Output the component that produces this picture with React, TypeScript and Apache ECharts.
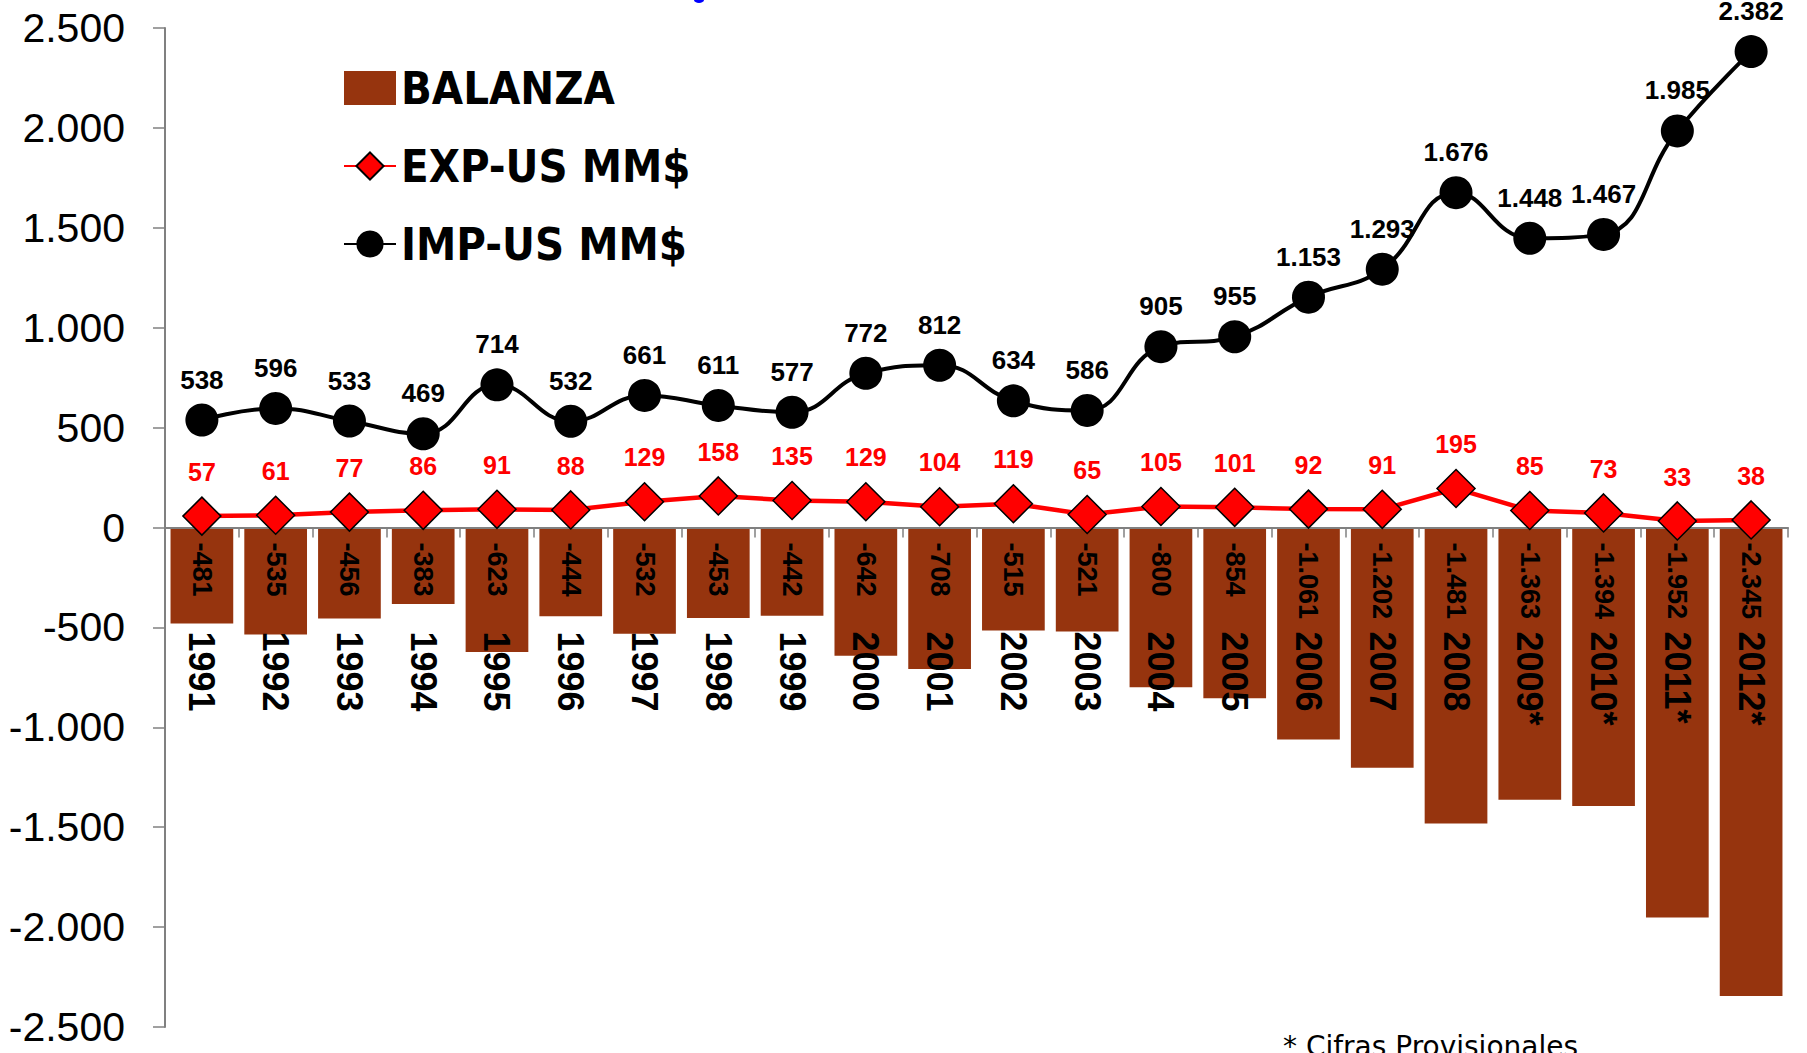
import React, { useEffect, useRef } from 'react';
import * as echarts from 'echarts';

const years = ['1991', '1992', '1993', '1994', '1995', '1996', '1997', '1998', '1999', '2000', '2001', '2002', '2003', '2004', '2005', '2006', '2007', '2008', '2009*', '2010*', '2011*', '2012*'];
const balanza = [-481, -535, -456, -383, -623, -444, -532, -453, -442, -642, -708, -515, -521, -800, -854, -1061, -1202, -1481, -1363, -1394, -1952, -2345];
const exportsUS = [57, 61, 77, 86, 91, 88, 129, 158, 135, 129, 104, 119, 65, 105, 101, 92, 91, 195, 85, 73, 33, 38];
const importsUS = [538, 596, 533, 469, 714, 532, 661, 611, 577, 772, 812, 634, 586, 905, 955, 1153, 1293, 1676, 1448, 1467, 1985, 2382];
const seriesNames = ['BALANZA', 'EXP-US MM$', 'IMP-US MM$'];
const yMin = -2500;
const yMax = 2500;
const yStep = 500;
const footnote = '* Cifras Provisionales';

function fmt(v: number): string {
  const s = Math.abs(v).toString().replace(/\B(?=(\d{3})+(?!\d))/g, '.');
  return (v < 0 ? '-' : '') + s;
}

const ARIAL = '"Liberation Sans", Arial, sans-serif';
const GRID_TOP = 28;
const GRID_BOTTOM = 26;
const CHART_H = 1053;

export default function App() {
  const ref = useRef<HTMLDivElement>(null);
  useEffect(() => {
    const chart = echarts.init(ref.current!, null, { renderer: 'svg' });
    // vertical distance from grid bottom to the zero line
    const plotH = CHART_H - GRID_TOP - GRID_BOTTOM;
    const zeroOffset = -plotH * (0 - yMin) / (yMax - yMin);
    chart.setOption({
      animation: false,
      backgroundColor: '#ffffff',
      grid: { left: 165, right: 19, top: GRID_TOP, bottom: GRID_BOTTOM, containLabel: false, outerBoundsMode: 'none' },
      legend: {
        orient: 'vertical',
        left: 338,
        top: 58,
        itemWidth: 52,
        itemHeight: 34,
        itemGap: 28,
        data: [
          { name: seriesNames[0], icon: 'rect' },
          { name: seriesNames[1] },
          { name: seriesNames[2] },
        ],
        textStyle: {
          fontFamily: '"DejaVu Sans Condensed", "DejaVu Sans", sans-serif',
          fontWeight: 'bold',
          fontSize: 45,
          lineHeight: 50,
          color: '#000',
        },
      },
      xAxis: {
        type: 'category',
        data: years,
        z: 3,
        position: 'bottom',
        offset: zeroOffset,
        axisLine: { onZero: false, lineStyle: { color: '#808080', width: 2 } },
        axisTick: { show: true, length: 10, lineStyle: { color: '#808080', width: 1.5 } },
        axisLabel: {
          interval: 0,
          rotate: -90,
          margin: 104,
          fontSize: 36,
          fontWeight: 'bold',
          color: '#000',
          fontFamily: ARIAL,
        },
        splitLine: { show: false },
      },
      yAxis: {
        type: 'value',
        min: yMin,
        max: yMax,
        interval: yStep,
        axisLine: { show: true, lineStyle: { color: '#808080', width: 2 } },
        axisTick: { show: true, length: 12, lineStyle: { color: '#808080', width: 1.5 } },
        axisLabel: {
          margin: 40,
          fontSize: 41,
          color: '#000',
          fontFamily: ARIAL,
          formatter: (v: number) => fmt(v),
        },
        splitLine: { show: false },
      },
      series: [
        {
          name: seriesNames[0],
          type: 'bar',
          data: balanza,
          z: 2,
          barCategoryGap: '15%',
          itemStyle: { color: '#96340E' },
          label: {
            show: true,
            position: 'insideTop',
            rotate: -90,
            align: 'left',
            verticalAlign: 'middle',
            distance: 15,
            fontSize: 27,
            fontWeight: 'bold',
            color: '#000',
            fontFamily: ARIAL,
            formatter: (p: any) => fmt(p.value),
          },
        },
        {
          name: seriesNames[1],
          type: 'line',
          data: exportsUS,
          z: 5,
          symbol: 'diamond',
          symbolSize: 38,
          lineStyle: { color: '#FF0000', width: 4.5 },
          itemStyle: { color: '#FF0000', borderColor: '#000', borderWidth: 1.5 },
          label: {
            show: true,
            position: 'top',
            distance: 12,
            fontSize: 25,
            fontWeight: 'bold',
            color: '#FF0000',
            fontFamily: ARIAL,
            formatter: (p: any) => fmt(p.value),
          },
        },
        {
          name: seriesNames[2],
          type: 'line',
          data: importsUS,
          z: 6,
          smooth: 0.45,
          symbol: 'circle',
          symbolSize: 33,
          lineStyle: { color: '#000', width: 4 },
          itemStyle: { color: '#000' },
          label: {
            show: true,
            position: 'top',
            distance: 11,
            fontSize: 26,
            fontWeight: 'bold',
            color: '#000',
            fontFamily: ARIAL,
            formatter: (p: any) => fmt(p.value),
          },
        },
      ],
      graphic: [
        {
          type: 'text',
          left: 1283,
          top: 1032,
          style: {
            text: footnote,
            fontFamily: '"DejaVu Sans", sans-serif',
            fontSize: 28,
            fill: '#000',
          },
        },
        {
          type: 'ellipse',
          shape: { cx: 699, cy: 0, rx: 5, ry: 3 },
          style: { fill: '#0000FF' },
        },
      ],
    });
    return () => chart.dispose();
  }, []);
  return (
    <div
      ref={ref}
      style={{ position: 'fixed', left: 0, top: 0, width: 1807, height: 1053, background: '#fff' }}
    />
  );
}
